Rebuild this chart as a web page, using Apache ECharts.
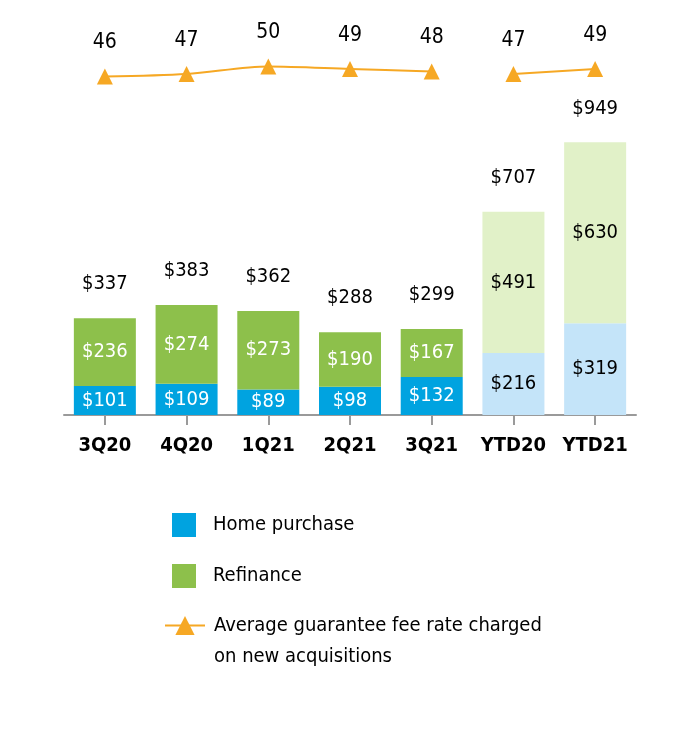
<!DOCTYPE html>
<html><head><meta charset="utf-8">
<script src="https://cdn.jsdelivr.net/npm/echarts@6/dist/echarts.min.js"></script>
<style>html,body{margin:0;padding:0;background:#fff}#c{width:700px;height:754px}</style>
</head><body><div id="c"></div>
<script>
const categories = ['3Q20','4Q20','1Q21','2Q21','3Q21','YTD20','YTD21'];
const homePurchase = [101,109,89,98,132,216,319];
const refinance = [236,274,273,190,167,491,630];
const totals = [337,383,362,288,299,707,949];
const feeRateQuarterly = [46,47,50,49,48,null,null];
const feeRateYTD = [null,null,null,null,null,47,49];
const ytdFlags = [false,false,false,false,false,true,true];

const FONT = '"Liberation Sans Narrow","DejaVu Sans Condensed","Roboto Condensed",sans-serif';
const BLUE='#00a3e0', GREEN='#8dc04b', LBLUE='#c4e4f9', LGREEN='#e1f1c8', ORANGE='#f6a824';
const LINE_NAME='Average guarantee fee rate charged';

function barData(vals, light){
  return vals.map((v,i)=> ytdFlags[i]
    ? {value:v, itemStyle:{color:light}, label:{color:'#000'}}
    : {value:v});
}
const chart = echarts.init(document.getElementById('c'));
chart.setOption({
  animation:false,
  textStyle:{fontFamily:FONT},
  grid:{left:64,right:64,top:30,bottom:754-415},
  xAxis:{type:'category',data:categories,
    axisLine:{show:true,lineStyle:{color:'#9a9a9a',width:2}},
    axisTick:{show:true,alignWithLabel:true,length:10,lineStyle:{color:'#9a9a9a',width:2}},
    axisLabel:{interval:0,margin:21,fontFamily:FONT,fontWeight:'bold',fontSize:20,color:'#000'}},
  yAxis:[
    {type:'value',min:0,max:1340,show:false,splitLine:{show:false}},
    {type:'value',min:-89.4,max:64.6,show:false,splitLine:{show:false}}
  ],
  legend:[
    {orient:'vertical',left:172,top:513,padding:0,itemWidth:24,itemHeight:24,itemGap:27,
     textStyle:{fontFamily:FONT,fontSize:20,color:'#000',lineHeight:24,padding:[0,0,0,12]},
     data:[{name:'Home purchase',icon:'rect'},{name:'Refinance',icon:'rect'}]},
    {orient:'vertical',left:164,top:579,padding:0,itemWidth:40,itemHeight:24,
     formatter:()=> '\nAverage guarantee fee rate charged\non new acquisitions',
     textStyle:{fontFamily:FONT,fontSize:20,color:'#000',lineHeight:31,padding:[0,0,0,4]},
     data:[LINE_NAME]}
  ],
  series:[
    {name:'Home purchase',type:'bar',stack:'t',barWidth:62,data:barData(homePurchase,LBLUE),
     itemStyle:{color:BLUE},
     label:{show:true,position:'inside',color:'#fff',fontSize:20,fontFamily:FONT,formatter:p=>'$'+p.value}},
    {name:'Refinance',type:'bar',stack:'t',barWidth:62,data:barData(refinance,LGREEN),
     itemStyle:{color:GREEN},
     label:{show:true,position:'inside',color:'#fff',fontSize:20,fontFamily:FONT,formatter:p=>'$'+p.value}},
    {name:'totals',type:'bar',stack:'t',barWidth:62,data:totals.map(()=>0),silent:true,
     itemStyle:{color:'rgba(0,0,0,0)'},
     label:{show:true,position:'top',distance:24,color:'#000',fontSize:20,fontFamily:FONT,formatter:p=>'$'+totals[p.dataIndex]}},
    {name:LINE_NAME,type:'line',yAxisIndex:1,data:feeRateQuarterly,smooth:0.3,
     symbol:'triangle',symbolSize:16,lineStyle:{color:ORANGE,width:2},itemStyle:{color:ORANGE},
     label:{show:true,position:'top',distance:15,color:'#000',fontSize:21,fontFamily:FONT}},
    {name:LINE_NAME,type:'line',yAxisIndex:1,data:feeRateYTD,smooth:0.3,
     symbol:'triangle',symbolSize:16,lineStyle:{color:ORANGE,width:2},itemStyle:{color:ORANGE},
     label:{show:true,position:'top',distance:15,color:'#000',fontSize:21,fontFamily:FONT}}
  ]
});
</script></body></html>
